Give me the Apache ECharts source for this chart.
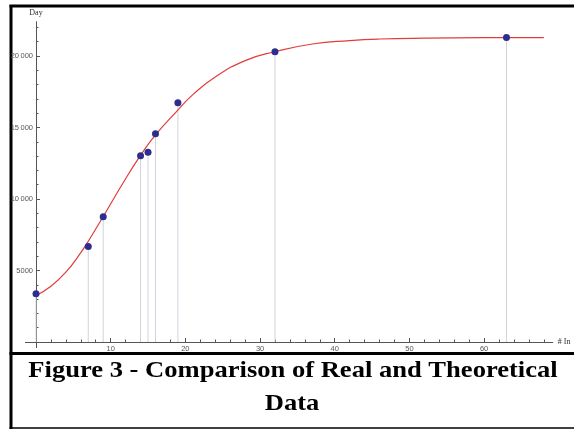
<!DOCTYPE html>
<html>
<head>
<meta charset="utf-8">
<script src="https://cdn.jsdelivr.net/npm/echarts@6/dist/echarts.min.js"></script>
<style>
  html, body { margin: 0; padding: 0; background: #fff; }
  #chart { width: 574px; height: 429px; }
</style>
</head>
<body>
<div id="chart"></div>
<script>
// measured points (# In vs Day)
const pointX = [0, 7, 9, 14, 15, 16, 19, 32, 63]
const pointY = [3380, 6670, 8760, 13030, 13270, 14570, 16740, 20290, 21290]

// theoretical curve
const curveX = [0, 2, 4, 6, 7, 9, 12, 14, 16, 19, 21, 24, 28, 32, 37, 42, 46, 52, 60, 68]
const curveY = [3250, 3900, 4880, 6250, 7050, 8780, 11420, 13050, 14480, 16220, 17300, 18530, 19680, 20300, 20840, 21080, 21190, 21250, 21280, 21290]

const xMajor = [10, 20, 30, 40, 50, 60]
const xMinor = [2, 4, 6, 8, 12, 14, 16, 18, 22, 24, 26, 28, 32, 34, 36, 38, 42, 44, 46, 48, 52, 54, 56, 58, 62, 64, 66, 68]
const yMajor = [5000, 10000, 15000, 20000]
const yMinor = [1000, 2000, 3000, 4000, 6000, 7000, 8000, 9000, 11000, 12000, 13000, 14000, 16000, 17000, 18000, 19000, 21000, 22000]

const captionLines = ['Figure 3 - Comparison of Real and Theoretical', 'Data']

const axisColor = '#555'
const labelStyle = { fontSize: 7.5, color: '#555', fontFamily: 'Liberation Sans' }

function fmtY(v) {
  const s = String(v)
  return v >= 10000 ? s.slice(0, -3) + '\u2009' + s.slice(-3) : s
}

const chart = echarts.init(document.getElementById('chart'))
chart.setOption({
  animation: false,
  backgroundColor: '#fff',
  grid: { left: 36, right: 21.2, top: 21.7, bottom: 87, outerBoundsMode: 'none', containLabel: false },
  xAxis: [
    {
      type: 'value', min: 0, max: 69.2, position: 'bottom',
      axisLine: { onZero: false, lineStyle: { color: axisColor, width: 1 } },
      axisTick: { inside: true, length: 4, customValues: xMajor, lineStyle: { color: axisColor } },
      axisLabel: { customValues: xMajor, margin: 3, ...labelStyle },
      splitLine: { show: false },
      name: '# In', nameLocation: 'end', nameGap: 5,
      nameTextStyle: { fontSize: 8, color: '#333', fontFamily: 'Liberation Serif', verticalAlign: 'middle' },
    },
    {
      type: 'value', min: 0, max: 69.2, position: 'bottom',
      axisLine: { show: false, onZero: false },
      axisTick: { inside: true, length: 2.5, customValues: xMinor, lineStyle: { color: axisColor } },
      axisLabel: { show: false },
      splitLine: { show: false },
    },
  ],
  yAxis: [
    {
      type: 'value', min: 0, max: 22400, position: 'left',
      axisLine: { show: true, onZero: false, lineStyle: { color: axisColor, width: 1 } },
      axisTick: { show: true, inside: true, length: 4, customValues: yMajor, lineStyle: { color: axisColor } },
      axisLabel: { customValues: yMajor, margin: 3, formatter: fmtY, ...labelStyle },
      splitLine: { show: false },
      name: 'Day', nameLocation: 'end', nameGap: 5,
      nameTextStyle: { fontSize: 8, color: '#333', fontFamily: 'Liberation Serif' },
    },
    {
      type: 'value', min: 0, max: 22400, position: 'left',
      axisLine: { show: false, onZero: false },
      axisTick: { show: true, inside: true, length: 2.5, customValues: yMinor, lineStyle: { color: axisColor } },
      axisLabel: { show: false },
      splitLine: { show: false },
    },
  ],
  series: [
    {
      type: 'bar',
      barWidth: 1,
      silent: true,
      itemStyle: { color: '#d3d3df' },
      data: pointX.map((x, i) => [x, pointY[i]]),
      z: 1,
    },
    {
      type: 'line',
      smooth: true,
      showSymbol: false,
      lineStyle: { color: '#e23c3c', width: 1.2 },
      data: curveX.map((x, i) => [x, curveY[i]]),
      z: 2,
    },
    {
      type: 'scatter',
      symbolSize: 7,
      itemStyle: { color: '#2c2e8e', opacity: 1 },
      data: pointX.map((x, i) => [x, pointY[i]]),
      z: 3,
    },
  ],
  graphic: [
    // axes overhang past the origin
    { type: 'line', shape: { x1: 25, y1: 342.5, x2: 36, y2: 342.5 }, style: { stroke: axisColor, lineWidth: 1 } },
    { type: 'line', shape: { x1: 36.5, y1: 342, x2: 36.5, y2: 348 }, style: { stroke: axisColor, lineWidth: 1 } },
    // frame
    { type: 'line', shape: { x1: 9.5, y1: 6, x2: 580, y2: 6 }, style: { stroke: '#000', lineWidth: 3 } },
    { type: 'line', shape: { x1: 11, y1: 5, x2: 11, y2: 429 }, style: { stroke: '#000', lineWidth: 3 } },
    { type: 'line', shape: { x1: 9.5, y1: 353.5, x2: 580, y2: 353.5 }, style: { stroke: '#000', lineWidth: 3 } },
    { type: 'line', shape: { x1: 9.5, y1: 428, x2: 580, y2: 428 }, style: { stroke: '#000', lineWidth: 1.5 } },
    {
      type: 'text', x: 293, y: 371.4, scaleX: 1.13,
      style: { text: captionLines[0], font: 'bold 23.5px "Liberation Serif"', fill: '#000', textAlign: 'center', textVerticalAlign: 'middle' },
    },
    {
      type: 'text', x: 292, y: 403.8, scaleX: 1.13,
      style: { text: captionLines[1], font: 'bold 23.5px "Liberation Serif"', fill: '#000', textAlign: 'center', textVerticalAlign: 'middle' },
    },
  ],
})
</script>
</body>
</html>
